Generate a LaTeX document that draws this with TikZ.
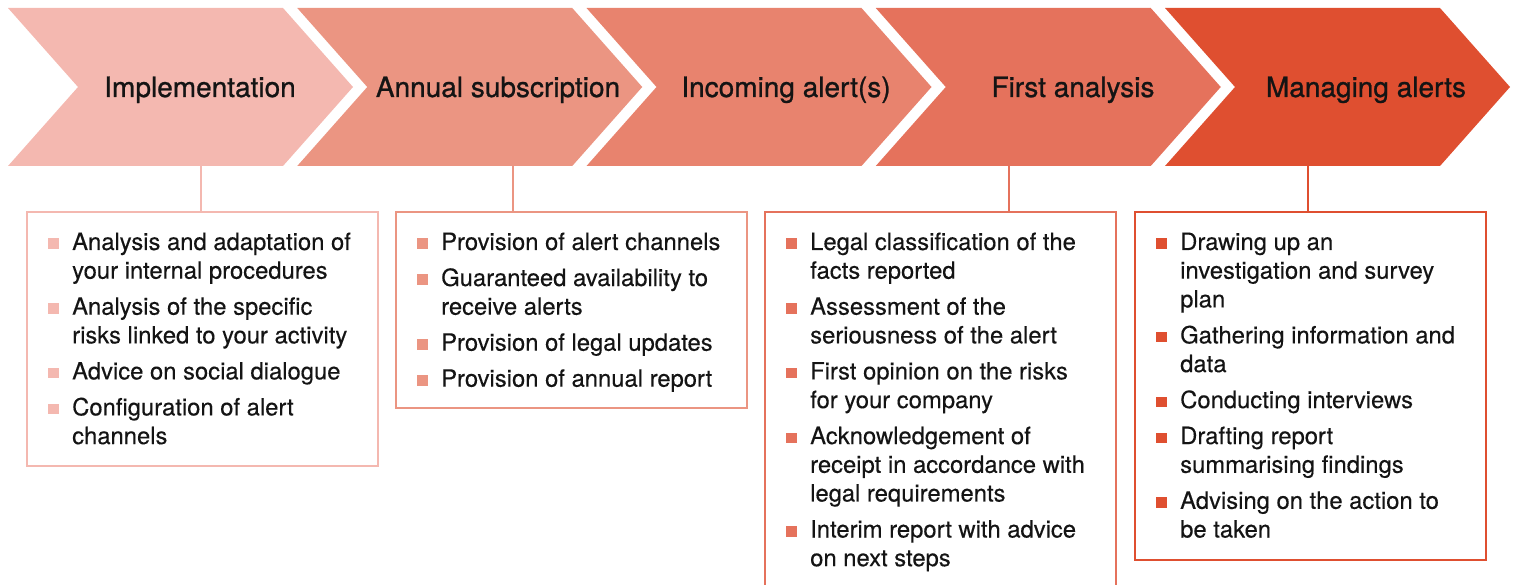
\documentclass[tikz,border=0pt]{standalone}
\usepackage{fontspec}
\setmainfont{TeX Gyre Heros}
\newfontfamily\headfont[FakeBold=0.9]{TeX Gyre Heros}
\newfontfamily\bodyfont[FakeBold=0.3]{TeX Gyre Heros}

\definecolor{ink}{HTML}{141414}
\definecolor{stepA}{HTML}{F4B8B0}
\definecolor{stepB}{HTML}{EB9582}
\definecolor{stepC}{HTML}{E8836E}
\definecolor{stepD}{HTML}{E5725C}
\definecolor{stepE}{HTML}{DF4F30}

% square bullet hanging to the left of the text column
\newcommand\sqbul[1]{\leavevmode\llap{\textcolor{#1}{\rule[1pt]{11pt}{10.5pt}}\hspace{13pt}}}

\tikzset{
  chevron/.style={fill=#1, draw=none},
  heading/.style={anchor=base, inner sep=0pt, text=ink,
    font=\headfont\fontsize{28}{32}\selectfont},
  panel/.style={draw=#1, line width=2pt, fill=none, anchor=north west,
    inner sep=0pt, minimum width=351pt},
  listtext/.style={anchor=base west, inner sep=0pt, text=ink,
    font=\bodyfont\fontsize{23.8}{28.7}\selectfont},
  link/.style={draw=#1, line width=2pt},
}

% one arrow-shaped step: left x of its top edge, colour, label centre, label, name
\newcommand\stepshape[5]{%
  \fill[chevron=#2] (#1,8) -- ++(275,0) -- ++(70,79) -- ++(-70,79)
    -- ++(-275,0) -- ++(70,-79) -- cycle;
  \node[heading] (#5) at (#3,97) {#4};
}

\begin{document}
\begin{tikzpicture}[x=1pt,y=-1pt]
  \useasboundingbox (0,0) rectangle (1514,585);
  \clip (0,0) rectangle (1514,585);

  % the five process steps
  \stepshape{8}{stepA}{200}{Implementation}{s1}
  \stepshape{297.25}{stepB}{498}{Annual subscription}{s2}
  \stepshape{586.5}{stepC}{786}{Incoming alert(s)}{s3}
  \stepshape{875.75}{stepD}{1073}{First analysis}{s4}
  \stepshape{1165}{stepE}{1366}{Managing alerts}{s5}

  % attachment points on the lower edge of the steps
  \coordinate (t1) at (201,166);
  \coordinate (t2) at (513,166);
  \coordinate (t4) at (1009,166);
  \coordinate (t5) at (1308,166);

  % detail panels
  \node[panel=stepA, minimum height=254pt] (p1) at (26,211) {};
  \node[panel=stepB, minimum height=196pt] (p2) at (395,211) {};
  \node[panel=stepD, minimum height=420pt] (p3) at (764,211) {};
  \node[panel=stepE, minimum height=348pt] (p4) at (1134,211) {};

  \draw[link=stepA] (t1) -- (t1 |- p1.north);
  \draw[link=stepB] (t2) -- (t2 |- p2.north);
  \draw[link=stepD] (t4) -- (t4 |- p3.north);
  \draw[link=stepE] (t5) -- (t5 |- p4.north);

  \node[listtext] (l1) at (72,250) {\parbox[t]{300pt}{\raggedright
    \sqbul{stepA}Analysis and adaptation of\\
    your internal procedures\\[7.3pt]
    \sqbul{stepA}Analysis of the specific\\
    risks linked to your activity\\[7.3pt]
    \sqbul{stepA}Advice on social dialogue\\[7.3pt]
    \sqbul{stepA}Configuration of alert\\
    channels}};

  \node[listtext] (l2) at (441,250) {\parbox[t]{300pt}{\raggedright
    \sqbul{stepB}Provision of alert channels\\[7.3pt]
    \sqbul{stepB}Guaranteed availability to\\
    receive alerts\\[7.3pt]
    \sqbul{stepB}Provision of legal updates\\[7.3pt]
    \sqbul{stepB}Provision of annual report}};

  \node[listtext] (l3) at (810,250) {\parbox[t]{300pt}{\raggedright
    \sqbul{stepD}Legal classification of the\\
    facts reported\\[7.3pt]
    \sqbul{stepD}Assessment of the\\
    seriousness of the alert\\[7.3pt]
    \sqbul{stepD}First opinion on the risks\\
    for your company\\[7.3pt]
    \sqbul{stepD}Acknowledgement of\\
    receipt in accordance with\\
    legal requirements\\[7.3pt]
    \sqbul{stepD}Interim report with advice\\
    on next steps}};

  \node[listtext] (l4) at (1180,250) {\parbox[t]{300pt}{\raggedright
    \sqbul{stepE}Drawing up an\\
    investigation and survey\\
    plan\\[7.3pt]
    \sqbul{stepE}Gathering information and\\
    data\\[7.3pt]
    \sqbul{stepE}Conducting interviews\\[7.3pt]
    \sqbul{stepE}Drafting report\\
    summarising findings\\[7.3pt]
    \sqbul{stepE}Advising on the action to\\
    be taken}};
\end{tikzpicture}
\end{document}
